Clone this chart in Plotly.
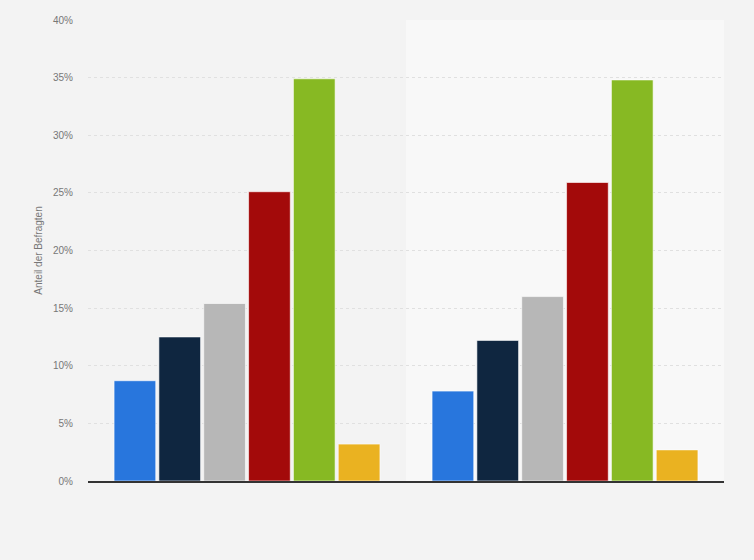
import plotly.graph_objects as go

# Zwei Gruppen, sechs Antwortkategorien (Beschriftungen im Original ausgeblendet)
gruppen = ["Gruppe 1", "Gruppe 2"]
serien = ["Antwort 1", "Antwort 2", "Antwort 3", "Antwort 4", "Antwort 5", "Antwort 6"]
werte = [
    [8.7, 7.8],
    [12.5, 12.2],
    [15.4, 16.0],
    [25.1, 25.9],
    [34.9, 34.8],
    [3.2, 2.7],
]
farben = ["#2876dd", "#0f2640", "#b7b7b7", "#a30a0a", "#87b923", "#eab221"]

fig = go.Figure()
for name, vals, col in zip(serien, werte, farben):
    fig.add_trace(go.Bar(
        x=gruppen, y=vals, name=name,
        marker=dict(color=col, line=dict(color="rgba(255,255,255,0.6)", width=1)),
        hovertemplate="%{y:.1f}%<extra>" + name + "</extra>",
    ))

# hellerer Hintergrund fuer die zweite Kategorie
fig.add_shape(type="rect", xref="x", yref="paper", x0=0.5, x1=1.5, y0=0, y1=1,
              fillcolor="#f8f8f8", line_width=0, layer="below")

fig.update_layout(
    width=754, height=560,
    barmode="group", bargap=0.154, bargroupgap=0.07,
    paper_bgcolor="#f3f3f3", plot_bgcolor="#f3f3f3",
    margin=dict(l=88, r=30, t=20, b=79),
    showlegend=False,
    font=dict(family="Liberation Sans, Arial, sans-serif", size=10, color="#777"),
)
fig.update_xaxes(showticklabels=False, showgrid=False, showline=True,
                 linecolor="#333", linewidth=1.5, range=[-0.5, 1.5], fixedrange=True)
fig.update_yaxes(
    range=[0, 40], dtick=5, ticksuffix="%",
    showgrid=True, gridcolor="#e0e0e0", griddash="dot", gridwidth=1,
    zeroline=False, ticks="", ticklabelstandoff=14,
    title=dict(text="Anteil der Befragten", font=dict(size=10, color="#777"), standoff=8),
    fixedrange=True,
)

# Seitenrand des Browsers entfernen, damit das Diagramm bei (0,0) beginnt
fig.write_html("out.html", config={"displayModeBar": False},
               post_script="document.body.style.margin='0';")
